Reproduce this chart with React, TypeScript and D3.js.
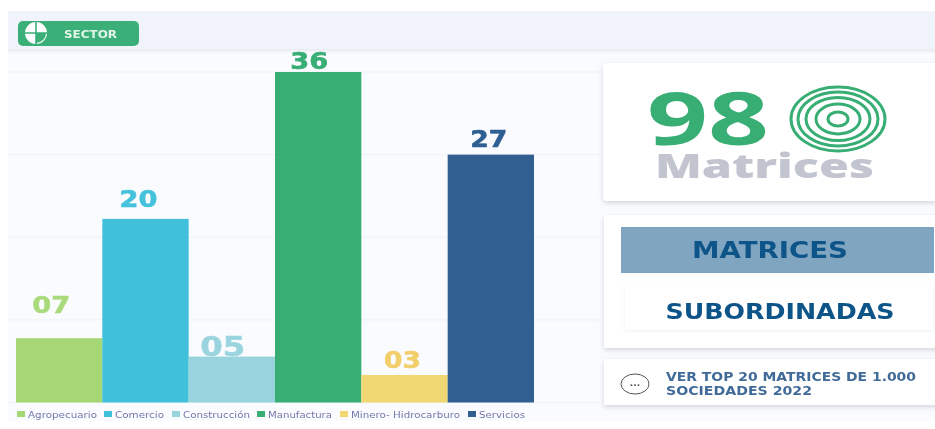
import React from "react";
import * as d3 from "d3";

const categories = ["Agropecuario", "Comercio", "Construcción", "Manufactura", "Minero- Hidrocarburo", "Servicios"];
const values = [7, 20, 5, 36, 3, 27];
const valueLabels = ["07", "20", "05", "36", "03", "27"];
const colors = ["#a5d875", "#3fc0da", "#98d3de", "#37ae75", "#f2d872", "#305f91"];
const labelColors = ["#a9da7c", "#45c2db", "#9ad4df", "#37ae75", "#f2cf6b", "#2f5f92"];
const gridTicks = [0, 9, 18, 27, 36];
const labelDx = [-8, -7, -9, -9, -2, -2];
const labelRaise = [25, 12, 1, 3, 7, 8];
const labelSize = [23, 23, 27, 23, 23, 23];
const labelWidth = [38, 38, 45, 38, 37, 37];
const legendX = [17, 104, 172, 257, 340, 468];
const legendW = [69, 49, 67, 64, 109, 46];
const rings: [number, number][] = [[47, 32], [40, 27], [32, 21.5], [22, 15], [10, 7]];

const FONT = "'DejaVu Sans', sans-serif";

export default function App() {
  const x = d3.scaleBand<string>().domain(categories).range([16, 534]).padding(0);
  const y = d3.scaleLinear().domain([0, 36]).range([402.5, 72]);

  return (
    <svg width={935} height={429} viewBox="0 0 935 429"
      style={{ position: "absolute", left: 0, top: 0, background: "#fff" }} fontFamily={FONT}>
      <defs>
        <filter id="soft" x="-5%" y="-10%" width="110%" height="125%">
          <feDropShadow dx="0" dy="2" stdDeviation="2.5" floodColor="#8a90a0" floodOpacity="0.35" />
        </filter>
        <filter id="softer" x="-5%" y="-10%" width="110%" height="125%">
          <feDropShadow dx="0" dy="1" stdDeviation="1.5" floodColor="#8a90a0" floodOpacity="0.15" />
        </filter>
        <filter id="blur"><feGaussianBlur stdDeviation="0.5" /></filter>
        <linearGradient id="fade" x1="0" y1="0" x2="0" y2="1">
          <stop offset="0" stopColor="#e9ebf2" />
          <stop offset="1" stopColor="#fafbfe" />
        </linearGradient>
      </defs>

      <rect x={8} y={11} width={927} height={38} fill="#f1f3fa" />
      <rect x={8} y={49} width={927} height={372} fill="#fafbfe" />
      <rect x={8} y={49} width={927} height={5} fill="url(#fade)" />

      <g>
        {gridTicks.map((t) => (
          <line key={t} x1={8} x2={600} y1={y(t)} y2={y(t)} stroke="#eff1f5" strokeWidth={1} />
        ))}
      </g>

      <g filter="url(#blur)">
        <rect x={18} y={21} width={121} height={25} rx={5} fill="#3aaf78" />
        <circle cx={36} cy={33} r={11} fill="#fff" />
        <path d="M36 22V44M25 33H47" stroke="#3aaf78" strokeWidth={1.6} />
        <path d="M36 33H46A10 10 0 0 1 36 43Z" fill="#3aaf78" />
        <text x={64} y={37.5} fontSize={11} fontWeight={700} fill="#e4f5ec" textLength={53} lengthAdjust="spacingAndGlyphs">SECTOR</text>

        {categories.map((c, i) => (
          <g key={c}>
            <rect x={x(c)} y={y(values[i])} width={x.bandwidth()} height={y(0) - y(values[i])} fill={colors[i]} />
            <text x={x(c)! + x.bandwidth() / 2 + labelDx[i]} y={y(values[i]) - labelRaise[i]} textAnchor="middle"
              fontSize={labelSize[i]} fontWeight={700} fill={labelColors[i]} stroke={labelColors[i]} strokeWidth={0.6}
              textLength={labelWidth[i]} lengthAdjust="spacingAndGlyphs">{valueLabels[i]}</text>
          </g>
        ))}

        {categories.map((c, i) => (
          <g key={c}>
            <rect x={legendX[i]} y={411} width={8} height={6} fill={colors[i]} />
            <text x={legendX[i] + 11} y={417.5} fontSize={9.5} fill="#7479aa"
              textLength={legendW[i]} lengthAdjust="spacingAndGlyphs">{c}</text>
          </g>
        ))}
      </g>

      <rect x={603} y={63} width={340} height={138} rx={4} fill="#fff" filter="url(#soft)" />
      <rect x={604} y={215} width={340} height={133} fill="#fff" filter="url(#soft)" />
      <rect x={604} y={359} width={340} height={46} fill="#fff" filter="url(#soft)" />

      <g filter="url(#blur)">
        <text x={647} y={145} fontSize={74} fontWeight={700} fontFamily="'Open Sans', sans-serif" fill="#37ae75"
          textLength={122} lengthAdjust="spacingAndGlyphs">98</text>
        {rings.map(([rx, ry]) => (
          <ellipse key={rx} cx={838} cy={119} rx={rx} ry={ry} fill="none" stroke="#37ae75" strokeWidth={3} />
        ))}
        <text x={655} y={178} fontSize={33} fontWeight={800} fontFamily="'Open Sans', sans-serif" fill="#c2c4cf"
          textLength={219} lengthAdjust="spacingAndGlyphs">Matrices</text>

        <rect x={621} y={227} width={313} height={46} fill="#7fa5c0" />
        <text x={770} y={258} textAnchor="middle" fontSize={23} fontWeight={700} fill="#0f5489" textLength={156} lengthAdjust="spacingAndGlyphs">MATRICES</text>
        <rect x={625} y={284} width={308} height={46} fill="#fff" filter="url(#softer)" />
        <text x={780} y={318.5} textAnchor="middle" fontSize={22} fontWeight={700} fill="#0f5489" textLength={229} lengthAdjust="spacingAndGlyphs">SUBORDINADAS</text>

        <ellipse cx={635} cy={384} rx={14} ry={10} fill="none" stroke="#555" strokeWidth={1} />
        <text x={635} y={386} textAnchor="middle" fontSize={9} fontWeight={700} fill="#555">...</text>
        <text x={666} y={381} fontSize={12} fontWeight={700} fill="#3f6a98" textLength={250} lengthAdjust="spacingAndGlyphs">VER TOP 20 MATRICES DE 1.000</text>
        <text x={666} y={395} fontSize={12} fontWeight={700} fill="#3f6a98" textLength={146} lengthAdjust="spacingAndGlyphs">SOCIEDADES 2022</text>
      </g>
    </svg>
  );
}
